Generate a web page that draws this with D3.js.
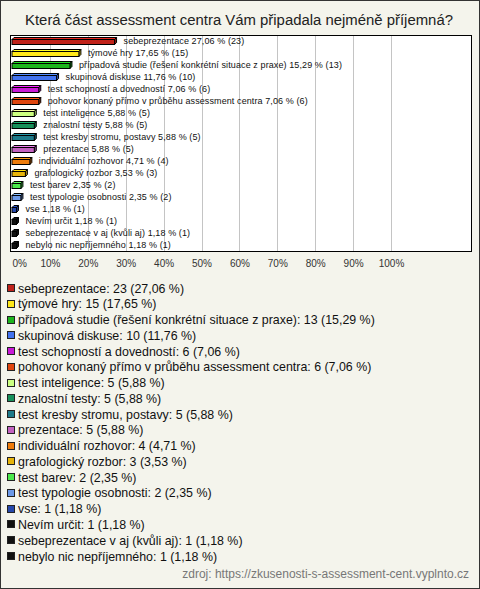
<!DOCTYPE html>
<html>
<head>
<meta charset="utf-8">
<script src="https://cdn.jsdelivr.net/npm/d3@7/dist/d3.min.js"></script>
<style>
html,body{margin:0;padding:0;background:#fff;}
svg{display:block;}
</style>
</head>
<body>
<svg id="chart" width="480" height="589"></svg>
<script>
const title = "Která část assessment centra Vám připadala nejméně příjemná?";
const categories = [
  "sebeprezentace",
  "týmové hry",
  "případová studie (řešení konkrétní situace z praxe)",
  "skupinová diskuse",
  "test schopností a dovedností",
  "pohovor konaný přímo v průběhu assessment centra",
  "test inteligence",
  "znalostní testy",
  "test kresby stromu, postavy",
  "prezentace",
  "individuální rozhovor",
  "grafologický rozbor",
  "test barev",
  "test typologie osobnosti",
  "vse",
  "Nevím určit",
  "sebeprezentace v aj (kvůli aj)",
  "nebylo nic nepříjemného"
];
const counts = [23,15,13,10,6,6,5,5,5,5,4,3,2,2,1,1,1,1];
const percents = [27.06,17.65,15.29,11.76,7.06,7.06,5.88,5.88,5.88,5.88,4.71,3.53,2.35,2.35,1.18,1.18,1.18,1.18];
const colors = ["#c0221a","#ffe81a","#1db51d","#4272ee","#c81ad6","#e0460f","#ccff80","#17905a","#1e7a8a","#c262c0","#ee7c0c","#e6b40c","#4ce84c","#6d9ae8","#2648ac","#111111","#111111","#111111"];
const tickValues = [0,10,20,30,40,50,60,70,80,90,100];
const source = "zdroj: https://zkusenosti-s-assessment-cent.vyplnto.cz";

const fmt = v => d3.format(".2f")(v).replace(".", ",");
const data = categories.map((c,i)=>({cat:c,count:counts[i],pct:percents[i],color:colors[i]}));

const svg = d3.select("#chart");
const W = 480, H = 589;
svg.append("rect").attr("x",0.5).attr("y",0.5).attr("width",W-1).attr("height",H-1)
  .attr("fill","#f4f4ec").attr("stroke","#333");

svg.append("text").attr("x",239).attr("y",25).attr("text-anchor","middle")
  .attr("font-family","Liberation Sans, Arial, sans-serif").attr("font-size",14.9).attr("fill","#222")
  .text(title);

const plot = {left:10.5, top:35.5, right:471.5, bottom:251.5};
svg.append("rect").attr("x",plot.left).attr("y",plot.top)
  .attr("width",plot.right-plot.left).attr("height",plot.bottom-plot.top)
  .attr("fill","#fff");

const x = d3.scaleLinear().domain([0,100]).range([12,391]);
const y = d3.scaleBand().domain(d3.range(categories.length)).range([35,251]);

// gridlines
svg.append("g").selectAll("line").data(tickValues.filter(t=>t>0)).join("line")
  .attr("x1",d=>Math.round(x(d))+0.5).attr("x2",d=>Math.round(x(d))+0.5)
  .attr("y1",plot.top).attr("y2",plot.bottom)
  .attr("stroke","#c4c4c4").attr("stroke-width",1);

svg.append("rect").attr("x",plot.left).attr("y",plot.top)
  .attr("width",plot.right-plot.left).attr("height",plot.bottom-plot.top)
  .attr("fill","none").attr("stroke","#000");

// axis labels
const axis = d3.axisBottom(x).tickValues(tickValues).tickFormat(d=>d+"%").tickSize(0);
const ax = svg.append("g").attr("transform","translate(0,257)").call(axis);
ax.select(".domain").remove();
ax.selectAll("text").attr("font-family","Liberation Sans, Arial, sans-serif").attr("font-size",10)
  .attr("fill","#333").attr("dy","0.71em");
ax.selectAll(".tick").filter(d=>d===0).select("text").attr("text-anchor","start");

// bars (3D style)
const depth = 2;
const bars = svg.append("g");
data.forEach((d,i)=>{
  const c = y(i) + y.bandwidth()/2;
  const x0 = x(0), x1 = x(d.pct);
  const top = c-1.5, h = 5;
  const col = d3.color(d.color);
  const g = bars.append("g");
  g.append("path").attr("d",`M${x0},${top}L${x0+depth},${top-depth}L${x1+depth},${top-depth}L${x1},${top}Z`)
    .attr("fill",col.brighter(0.6)).attr("stroke","#000").attr("stroke-width",1);
  g.append("path").attr("d",`M${x1},${top}L${x1+depth},${top-depth}L${x1+depth},${top-depth+h}L${x1},${top+h}Z`)
    .attr("fill",col.darker(0.8)).attr("stroke","#000").attr("stroke-width",1);
  g.append("rect").attr("x",x0).attr("y",top).attr("width",Math.max(0,x1-x0)).attr("height",h)
    .attr("fill",d.color).attr("stroke","#000").attr("stroke-width",1);
  svg.append("text").attr("x",x1+depth+7).attr("y",c+3)
    .attr("font-family","Liberation Sans, Arial, sans-serif").attr("font-size",9).attr("fill","#111")
    .attr("letter-spacing",0.1)
    .text(`${d.cat} ${fmt(d.pct)} % (${d.count})`);
});

// legend
const legY = d3.scaleLinear().domain([0,17]).range([288,556]);
const leg = svg.append("g");
data.forEach((d,i)=>{
  const c = legY(i);
  leg.append("rect").attr("x",7.5).attr("y",Math.round(c-4)+0.5).attr("width",7).attr("height",7)
    .attr("fill",d.color).attr("stroke","#222");
  leg.append("text").attr("x",18).attr("y",c+4.5)
    .attr("font-family","Liberation Sans, Arial, sans-serif").attr("font-size",12.4).attr("fill","#111")
    .text(`${d.cat}: ${d.count} (${fmt(d.pct)} %)`);
});

svg.append("text").attr("x",469).attr("y",578).attr("text-anchor","end")
  .attr("font-family","Liberation Sans, Arial, sans-serif").attr("font-size",12).attr("fill","#777")
  .text(source);
</script>
</body>
</html>
